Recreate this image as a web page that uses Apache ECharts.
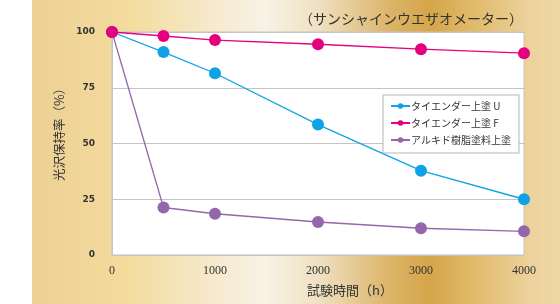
<!DOCTYPE html>
<html>
<head>
<meta charset="utf-8">
<script src="https://cdn.jsdelivr.net/npm/echarts@6/dist/echarts.min.js"></script>
<style>
  html, body { margin: 0; padding: 0; }
  body {
    width: 560px; height: 304px; overflow: hidden;
    background: linear-gradient(to right,
      #ffffff 0px, #ffffff 32px,
      #eed093 32px, #f3dc9e 130px, #f6e9cc 210px, #f8f2e6 265px,
      #efe0c0 320px, #dcb468 390px, #d5a64a 430px, #e2bd70 480px,
      #ecd29c 530px, #efd8a6 560px);
  }
  #chart { width: 560px; height: 304px; }
</style>
</head>
<body>
<div id="chart"></div>
<script>
  const hours = [0, 500, 1000, 2000, 3000, 4000];
  const seriesNames = ["タイエンダー上塗 U", "タイエンダー上塗 F", "アルキド樹脂塗料上塗"];
  const valuesU = [100, 91, 81.5, 58.5, 37.8, 25];
  const valuesF = [100, 98.2, 96.4, 94.5, 92.3, 90.5];
  const valuesAlkyd = [100, 21.3, 18.5, 14.8, 12, 10.6];
  const yTicks = [0, 25, 50, 75, 100];
  const colors = ["#10a2e6", "#e4007f", "#9467ad"];

  const chart = echarts.init(document.getElementById("chart"), null, { renderer: "canvas" });

  const pair = (vals) => hours.map((h, i) => [h, vals[i]]);

  chart.setOption({
    backgroundColor: "transparent",
    animation: false,
    color: colors,
    title: {
      text: "（サンシャインウエザオメーター）",
      right: 32,
      top: 7,
      textStyle: { fontFamily: "'Noto Sans CJK JP', sans-serif", fontSize: 14, fontWeight: "normal", color: "#333" },
    },
    legend: {
      orient: "vertical",
      left: 383,
      top: 95,
      padding: [4, 8, 6, 7],
      itemGap: 3,
      itemWidth: 19,
      itemHeight: 7,
      backgroundColor: "#fff",
      borderColor: "#b5b5b5",
      borderWidth: 1,
      borderRadius: 0,
      textStyle: { fontFamily: "'Noto Sans CJK JP', sans-serif", fontSize: 10, lineHeight: 14, color: "#333", padding: [0, 0, 0, -4] },
      data: seriesNames,
    },
    grid: {
      left: 112, right: 36, top: 32, bottom: 49,
      show: true, backgroundColor: "#fff", borderColor: "#c4c4c4", borderWidth: 1,
      outerBoundsMode: "none",
    },
    xAxis: {
      type: "value",
      min: 0, max: 4000, interval: 1000,
      name: "試験時間（h）",
      nameLocation: "middle",
      nameGap: 29,
      nameTextStyle: { fontFamily: "'Noto Sans CJK JP', sans-serif", fontSize: 13, color: "#333", padding: [0, 0, 0, 64] },
      axisLine: { show: true, lineStyle: { color: "#c4c4c4" } },
      axisTick: { show: false },
      splitLine: { show: false },
      axisLabel: { fontFamily: "'Liberation Serif', serif", fontSize: 12, color: "#333", margin: 10, formatter: (v) => String(v) },
    },
    yAxis: {
      type: "value",
      min: 0, max: 100, interval: 25,
      name: "光沢保持率（%）",
      nameLocation: "middle",
      nameRotate: 90,
      nameGap: 46,
      nameTextStyle: { fontFamily: "'Noto Sans CJK JP', sans-serif", fontSize: 12.5, color: "#333", padding: [0, 0, 0, 24] },
      axisLine: { show: true, lineStyle: { color: "#c4c4c4" } },
      axisTick: { show: false },
      splitLine: { show: true, lineStyle: { color: "#c4c4c4", width: 1 } },
      axisLabel: {
        fontFamily: "'DejaVu Sans', sans-serif", fontSize: 9, fontWeight: "bold", color: "#333", margin: 17,
        formatter: (v) => (yTicks.includes(v) ? String(v) : ""),
      },
    },
    series: [
      { name: seriesNames[0], type: "line", data: pair(valuesU), symbol: "circle", symbolSize: 12, lineStyle: { width: 1.3 }, z: 3 },
      { name: seriesNames[1], type: "line", data: pair(valuesF), symbol: "circle", symbolSize: 12, lineStyle: { width: 1.3 }, z: 4 },
      { name: seriesNames[2], type: "line", data: pair(valuesAlkyd), symbol: "circle", symbolSize: 12, lineStyle: { width: 1.3 }, z: 2 },
    ],
  });
</script>
</body>
</html>
